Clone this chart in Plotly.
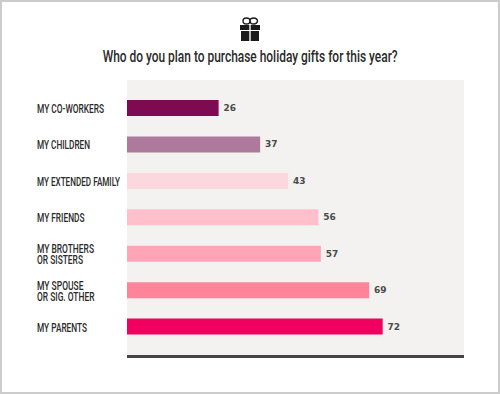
import json
import plotly.graph_objects as go

TITLE = "Who do you plan to purchase holiday gifts for this year?"
categories = ["MY CO-WORKERS", "MY CHILDREN", "MY EXTENDED FAMILY", "MY FRIENDS",
              "MY BROTHERS<br>OR SISTERS", "MY SPOUSE<br>OR SIG. OTHER", "MY PARENTS"]
labels = [26, 37, 43, 56, 57, 69, 72]
bar_lengths = [25.8, 37.5, 45.4, 53.9, 54.6, 68.2, 72]
colors = ["#7d0a52", "#ae7a9c", "#fdd7de", "#ffc0cb", "#ffa5b5", "#ff8399", "#f0005f"]
connector_px = [-19, -33, -4, -39, -29, -29, -37]
text_widths = {TITLE: 295, "MY CO-WORKERS": 67, "MY CHILDREN": 53, "MY EXTENDED FAMILY": 83, "MY FRIENDS": 47.5,
               "MY BROTHERS": 57, "OR SISTERS": 46, "MY SPOUSE": 46.5, "OR SIG. OTHER": 57.5, "MY PARENTS": 50}

W, H = 500, 394
L, R, T, B = 127, 36, 80, 39
PW, PH = W - L - R, H - T - B
def px(x): return (x - L) / PW
def py(y): return 1 - (y - T) / PH

LABEL_FONT = "Roboto, sans-serif"
fig = go.Figure(go.Bar(
    x=bar_lengths, y=list(range(len(categories))), orientation="h",
    marker=dict(color=colors, line=dict(width=0)),
    text=[f"\u2009<b>{v}</b>" for v in labels], textposition="outside", cliponaxis=False,
    textfont=dict(family="DejaVu Sans, sans-serif", size=9, color="#4a4a4a"),
    hoverinfo="skip", showlegend=False,
))

annotations = [dict(text=TITLE, xref="paper", yref="paper", x=px(249.5), y=py(56), xanchor="center", yanchor="middle",
                    showarrow=False, font=dict(family=LABEL_FONT, size=17, color="#2a2a2a", weight=500))]
shapes = []
for i, (c, col, off) in enumerate(zip(categories, colors, connector_px)):
    lines = c.split("<br>")
    for j, line in enumerate(lines):
        shift = (len(lines) - 1) * 5.5 - j * 11
        annotations.append(dict(text=line, xref="paper", yref="y", x=px(35), y=i, yshift=shift,
                                xanchor="left", yanchor="middle", showarrow=False,
                                font=dict(family=LABEL_FONT, size=13.5, color="#2a2a2a", weight=500)))
    shapes.append(dict(type="line", xref="x", yref="y", xsizemode="pixel", xanchor=0,
                       x0=off, x1=0, y0=i, y1=i, line=dict(color=col, width=1)))

# outer frame
shapes.append(dict(type="rect", xref="paper", yref="paper", x0=px(1), x1=px(499), y0=py(1), y1=py(393),
                   line=dict(color="#cccccc", width=2), layer="below"))
# gift icon
ICON = "#1a1a1a"
for x0, x1, y0, y1 in [(240, 249.3, 25, 30), (250.7, 260, 25, 30), (241, 249.3, 31, 41), (250.7, 259, 31, 41)]:
    shapes.append(dict(type="rect", xref="paper", yref="paper", x0=px(x0), x1=px(x1), y0=py(y0), y1=py(y1),
                       line=dict(width=0), fillcolor=ICON))
for x0, x1 in [(243, 250), (250, 257.5)]:
    shapes.append(dict(type="circle", xref="paper", yref="paper", x0=px(x0), x1=px(x1), y0=py(18), y1=py(24),
                       line=dict(color=ICON, width=1.4)))

fig.update_layout(
    width=W, height=H, margin=dict(l=L, r=R, t=T, b=B),
    paper_bgcolor="white", plot_bgcolor="#f3f2f1",
    bargap=0.56, annotations=annotations, shapes=shapes,
    xaxis=dict(range=[0, 94.9], showgrid=False, zeroline=False, showticklabels=False, ticks="",
               showline=True, linecolor="#444444", linewidth=3),
    yaxis=dict(range=[6.78, -0.77], showgrid=False, zeroline=False, showticklabels=False, ticks="", showline=False),
)
post = """
document.body.style.margin='0';document.body.style.overflow='hidden';
var widths = %s;
document.querySelectorAll('text.annotation-text').forEach(function(t){
  var w = widths[t.textContent]; if(!w) return;
  var b = t.getBBox();
  var left = t.textContent.indexOf('MY')===0 || t.textContent.indexOf('OR')===0;
  var x = left ? b.x : b.x + (b.width - w)/2;
  t.setAttribute('x', x); t.style.textAnchor='start';
  t.setAttribute('textLength', w); t.setAttribute('lengthAdjust','spacingAndGlyphs');
});
""" % json.dumps(text_widths)
fig.write_html("out.html", post_script=post, config={"displayModeBar": False})
